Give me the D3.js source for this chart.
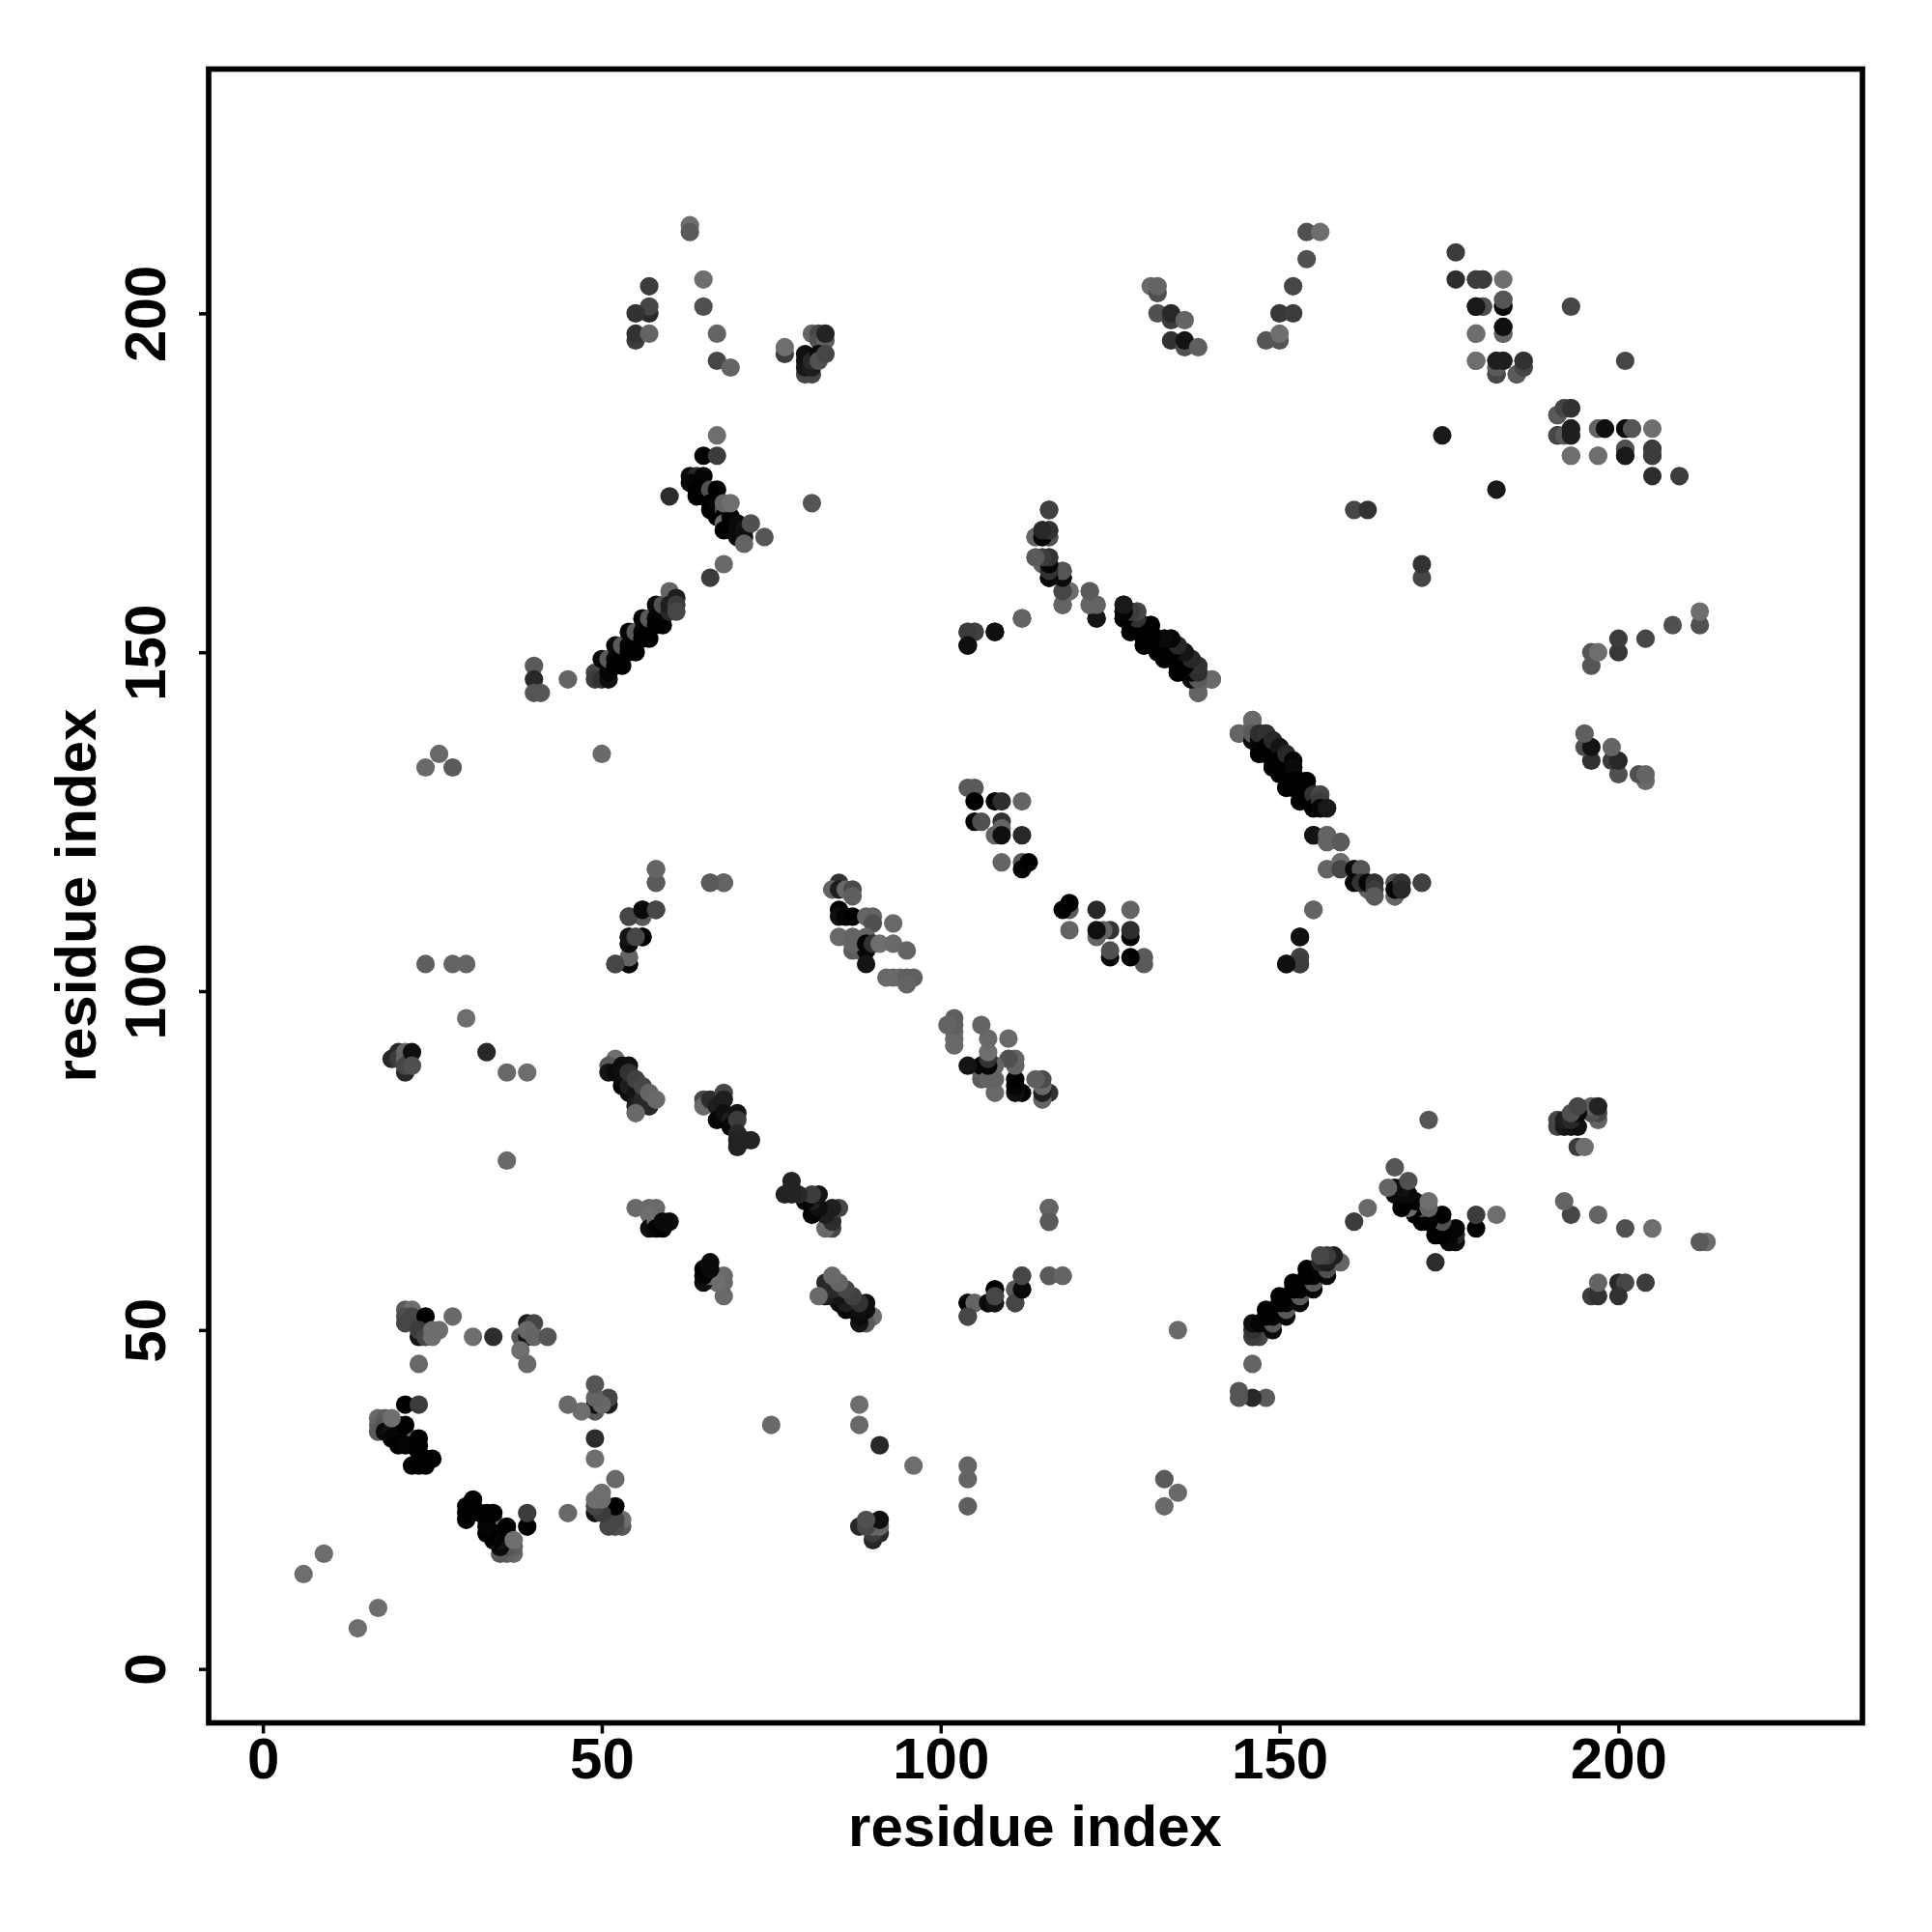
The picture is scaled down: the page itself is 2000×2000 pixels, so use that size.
<!DOCTYPE html>
<html><head><meta charset="utf-8">
<style>html,body{margin:0;background:#fff}svg{display:block}text{font-family:"Liberation Sans",Arial,sans-serif;font-weight:bold;fill:#000}</style>
<script src="https://cdn.jsdelivr.net/npm/d3@7"></script></head><body>
<script>
const termini=[[6,14,110],[9,17,110]];
const loopA=[[22,34,105],[17,37,105],[17,36,100],[17,35,90],[18,37,95],[18,36,85],[18,35,10],[19,35,20],[19,34,5],[20,36,30],[20,35,5],[20,34,5],[20,33,0],[21,36,0],[21,33,5],[22,33,5],[22,30,0],[23,34,0],[23,33,0],[23,32,0],[23,30,0],[24,31,0],[24,30,0],[25,31,0],[19,37,110],[21,39,0],[23,39,60],[23,45,105]];
const loopB=[[21,53,90],[22,53,110],[21,52,80],[21,51,70],[22,52,70],[24,52,0],[23,49,20],[23,50,60],[24,49,70],[25,50,110],[26,50,110],[25,49,110],[28,52,105],[31,49,110],[34,49,45],[39,51,30],[40,51,70],[38,49,90],[39,49,20],[39,50,105],[40,49,100],[42,49,85],[38,47,110],[39,45,105]];
const strayA=[[24,104,95],[28,104,100],[30,104,100],[30,96,110],[33,91,40],[36,88,105],[39,88,110],[36,75,105],[24,133,105],[26,135,105],[28,133,90],[50,135,105],[40,148,90],[40,146,40],[40,144,85],[41,144,85],[45,146,100]];
const patch20=[[19,90,40],[20,91,40],[20,90,60],[21,91,100],[21,90,100],[21,88,40],[21,89,70],[22,91,15],[22,89,80]];
const sheet50=[[52,90,110],[51,89,90],[51,88,20],[53,89,15],[54,89,15],[53,86,0],[52,88,10],[53,87,10],[53,88,15],[54,85,10],[54,86,30],[54,88,50],[55,85,20],[55,84,20],[55,83,30],[55,87,65],[56,84,40],[56,86,70],[57,83,40],[57,85,100],[58,84,105],[55,82,105]];
const sheet65=[[65,84,70],[65,83,105],[66,84,45],[67,83,30],[67,81,5],[68,85,70],[68,84,30],[68,82,15],[69,81,30],[69,80,5],[70,82,20],[70,81,60],[70,79,40],[70,78,35],[70,77,35],[71,78,35],[72,78,35]];
const patch55=[[55,68,105],[57,68,105],[58,68,105],[57,67,110],[57,65,15],[58,66,110],[58,65,5],[59,65,0],[59,66,10],[60,66,10]];
const patch85=[[85,112,5],[85,111,15],[86,111,5],[87,111,0],[89,111,100],[90,111,100],[90,110,80],[93,110,105],[85,108,105],[87,108,100],[89,108,100],[87,106,90],[88,106,95],[89,106,5],[87,107,100],[89,107,5],[90,107,50],[91,107,110],[93,107,105],[95,106,100],[89,104,20],[92,102,105],[93,102,105],[94,102,105],[95,102,95],[96,102,95],[95,101,100],[85,116,50],[84,115,100],[85,115,30],[86,115,105],[87,115,75],[87,114,95]];
const patch104=[[54,104,10],[54,105,110],[54,107,10],[54,108,5],[55,108,90],[56,108,0],[54,111,80],[56,111,70],[56,112,10],[58,112,75],[52,104,100],[58,116,90],[58,118,105],[66,116,105],[68,116,100],[68,116,100]];
const strand53=[[104,54,5],[105,54,100],[104,52,70],[107,54,10],[108,54,20],[108,56,0],[108,55,70],[111,56,90],[111,54,70],[112,56,10],[112,58,70],[116,58,90],[118,58,100],[116,68,100],[116,66,90]];
const helix50=[[49,147,70],[49,146,60],[50,146,50],[50,149,10],[51,146,15],[51,147,5],[51,148,5],[51,149,90],[52,151,10],[52,149,5],[52,148,0],[53,148,0],[53,150,0],[53,151,90],[54,153,5],[54,151,5],[54,150,0],[55,150,0],[55,152,0],[55,153,90],[56,155,5],[56,153,5],[56,152,0],[57,152,0],[57,154,0],[57,155,90],[58,157,10],[58,155,5],[58,154,0],[59,154,0],[59,156,5],[59,157,80],[60,159,100],[60,156,40],[60,157,30],[61,158,30],[61,157,60],[61,156,70]];
const helix63=[[63,176,10],[64,176,40],[65,176,5],[63,175,10],[64,175,5],[64,174,0],[64,173,0],[65,174,0],[65,173,0],[66,174,80],[67,174,0],[66,172,0],[66,171,0],[67,172,5],[67,170,0],[68,171,80],[68,170,0],[68,169,110],[68,168,0],[69,170,5],[69,169,0],[69,168,0],[68,172,100],[69,172,110],[70,169,10],[70,168,10],[70,167,10],[71,168,20],[71,167,15],[71,166,100],[72,169,80],[74,167,85],[60,173,45],[65,179,0],[67,179,60],[67,182,110],[81,172,85],[68,163,105],[66,161,60]];
const helix115=[[116,171,70],[115,168,40],[116,168,60],[114,167,100],[115,167,10],[116,167,100],[114,164,100],[115,164,60],[116,164,60],[115,163,100],[116,163,20],[116,162,60],[116,161,10],[118,162,85],[118,161,20],[118,159,90],[119,159,110],[118,157,95],[122,159,95],[122,157,95],[123,157,105],[123,155,20],[112,155,100],[104,153,70],[105,153,60],[108,153,15],[104,151,15],[161,171,70],[163,171,50]];
const helix127=[[127,157,15],[127,156,15],[127,155,10],[128,155,5],[128,153,0],[128,156,80],[129,156,85],[129,155,90],[129,154,0],[130,154,0],[130,153,0],[130,152,0],[130,151,0],[131,154,0],[131,153,0],[131,152,0],[132,152,0],[132,151,0],[132,150,0],[133,152,15],[133,151,40],[133,149,0],[134,152,15],[134,150,60],[134,149,0],[135,149,0],[135,147,0],[135,148,0],[136,150,20],[136,148,5],[136,147,5],[137,149,30],[137,146,0],[137,147,5],[138,148,50],[138,147,50],[138,146,5],[139,146,100],[140,146,100],[138,144,90]];
const helix146=[[146,140,105],[144,138,100],[146,137,10],[146,138,90],[147,135,0],[147,137,5],[147,138,45],[148,138,50],[148,136,0],[148,135,0],[149,133,0],[149,135,0],[149,137,40],[150,136,20],[150,133,0],[150,134,0],[151,130,0],[151,132,0],[151,133,0],[151,135,40],[152,134,5],[152,133,10],[152,131,0],[152,130,0],[153,128,0],[153,131,0],[153,130,0],[154,131,0],[154,129,0],[154,128,0],[155,129,50],[155,127,0],[156,129,70],[156,128,60],[156,127,5],[157,127,25],[155,123,20],[157,123,100],[157,122,100],[159,122,90]];
const arm159=[[157,118,100],[159,119,110],[159,118,70],[161,118,10],[162,118,85],[161,116,5],[162,116,50],[163,116,5],[164,116,50],[164,115,60],[164,114,90],[167,116,80],[167,114,100],[167,115,5],[168,116,50],[168,115,40],[171,116,65],[155,112,100],[153,108,15],[153,105,65],[153,104,60],[151,104,15]];
const patch104b=[[104,130,90],[105,130,90],[105,128,0],[108,128,5],[109,128,45],[112,128,100],[105,125,5],[106,125,80],[109,125,50],[109,124,100],[108,123,100],[109,123,15],[112,123,40],[109,119,100],[112,119,90],[112,118,5],[113,119,0]];
const top55=[[63,213,110],[63,212,90],[65,205,110],[65,201,80],[67,197,100],[67,193,70],[69,192,100],[57,204,60],[57,200,40],[57,201,70],[55,200,50],[55,196,60],[55,197,50],[57,197,100]];
const top80=[[77,194,60],[77,195,110],[81,197,100],[82,197,70],[82,196,80],[83,196,95],[83,197,35],[80,191,70],[81,191,70],[80,192,25],[80,193,20],[80,194,15],[81,192,30],[81,193,40],[82,194,10],[82,193,80],[83,194,70]];
const top130=[[131,204,105],[132,203,80],[132,204,100],[132,200,80],[134,199,60],[134,200,40],[136,199,100],[134,196,50],[136,195,80],[136,196,20],[138,195,95]];
const top150=[[154,212,80],[156,212,110],[154,208,80],[152,204,70],[150,200,55],[152,200,60],[148,196,85],[150,196,85],[150,197,110]];
const top176=[[176,209,60],[176,205,45],[179,205,70],[180,205,70],[183,205,110],[179,201,15],[180,201,80],[183,201,10],[183,202,100],[179,197,110],[183,197,90],[183,198,10],[179,193,110],[182,191,60],[182,192,100],[182,193,30],[183,193,30],[185,191,90],[186,192,60],[186,193,45],[193,201,70],[174,182,25]];
const near190=[[191,185,90],[192,186,70],[193,186,50],[191,182,70],[192,182,90],[193,183,30],[193,182,30],[193,179,110],[197,183,100],[198,183,15],[197,179,110],[201,183,10],[202,183,85],[201,180,80],[201,179,25],[205,180,60],[205,179,60]];
const blocks=[termini,loopA,loopB,strayA,patch20,sheet50,sheet65,patch55,patch85,patch104,strand53,helix50,helix63,helix115,helix127,helix146,arm159,patch104b,top55,top80,top130,top150,top176,near190];
const tickValues=[0,50,100,150,200];
const axisTitle="residue index";

const svg=d3.select("body").append("svg").attr("width",2000).attr("height",2000);
const x=d3.scaleLinear().domain([-8,236]).range([216,1928]);
const y=d3.scaleLinear().domain([-8,236]).range([1783.8,71.8]);
const shade=d3.scaleLinear().domain([0,255]).range(["#000","#fff"]);
const points=blocks.flat().flatMap(([i,j,g])=>[[i,j,g],[j,i,g]]);
svg.append("g").selectAll("circle").data(points).join("circle")
  .attr("cx",d=>x(d[0])).attr("cy",d=>y(d[1])).attr("r",9.6).attr("fill",d=>shade(d[2]));
svg.append("rect").attr("x",216).attr("y",71.5).attr("width",1712).attr("height",1712)
  .attr("fill","none").attr("stroke","#000").attr("stroke-width",5.7);
const ax=svg.append("g").attr("transform","translate(0,1783.5)").call(d3.axisBottom(x).tickValues(tickValues).tickSize(11).tickPadding(7));
const ay=svg.append("g").attr("transform","translate(216,0)").call(d3.axisLeft(y).tickValues(tickValues).tickSize(10).tickPadding(0));
[ax,ay].forEach(a=>{a.select(".domain").remove();a.selectAll("line").attr("stroke","#000").attr("stroke-width",3.5);a.selectAll("text").style("font-size","60px").attr("fill","#000").style("font-family",'"Liberation Sans"').style("font-weight","bold");});
ax.selectAll("text").each(function(){d3.select(this).attr("y",57).attr("dy",0);});
ay.selectAll("text").each(function(){d3.select(this).attr("x",null).attr("dy",0).attr("text-anchor","middle").attr("transform","translate(-45,0) rotate(-90)");});
svg.append("text").attr("x",1071.5).attr("y",1911).attr("text-anchor","middle").style("font-size","60px").text(axisTitle);
svg.append("text").attr("transform","translate(99,927) rotate(-90)").attr("text-anchor","middle").style("font-size","60px").text(axisTitle);
</script></body></html>
